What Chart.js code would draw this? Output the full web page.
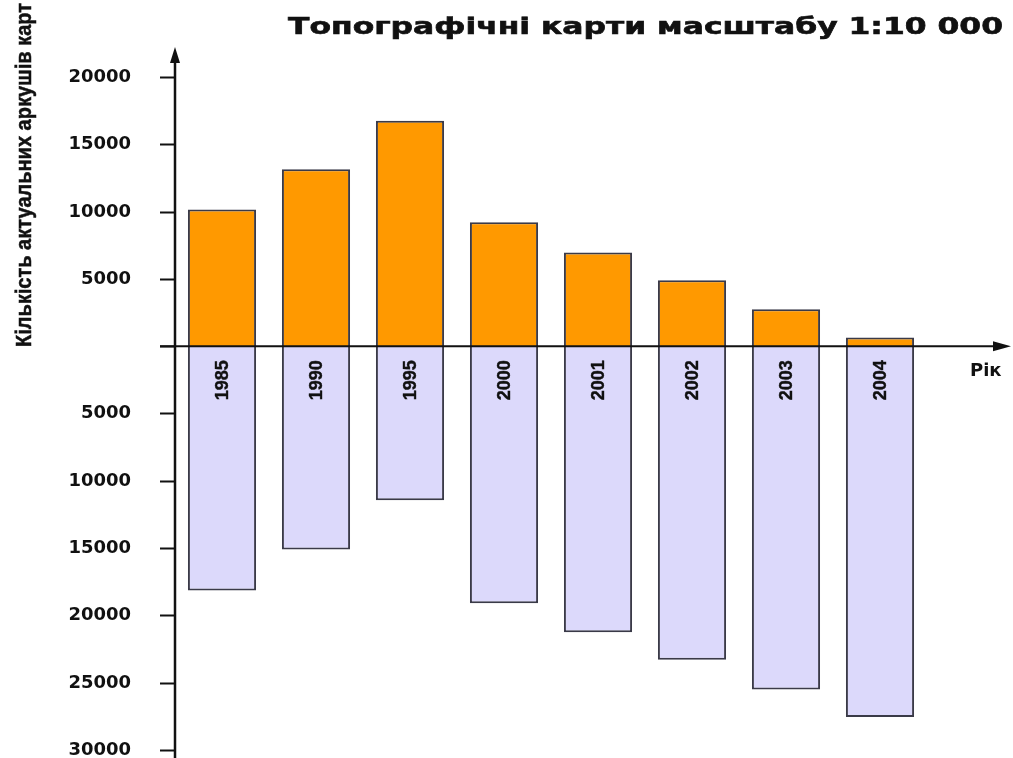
<!DOCTYPE html>
<html lang="uk">
<head>
<meta charset="utf-8">
<title>Топографічні карти масштабу 1:10 000</title>
<script src="https://cdn.jsdelivr.net/npm/chart.js@4.4.1/dist/chart.umd.min.js"></script>
<style>
  html, body { margin: 0; padding: 0; background: #ffffff; }
  #wrap { width: 1013px; height: 758px; position: relative; }
</style>
</head>
<body>
<div id="wrap"><canvas id="chart" width="1013" height="758"></canvas></div>
<script>
// Years along the horizontal axis
const years = ['1985', '1990', '1995', '2000', '2001', '2002', '2003', '2004'];
// Sheets that are up to date (drawn above the axis)
const currentSheets = [10150, 13150, 16750, 9200, 6950, 4900, 2750, 650];
// Sheets that are out of date (drawn below the axis)
const outdatedSheets = [18150, 15100, 11450, 19100, 21250, 23300, 25500, 27550];
// Labelled values on the vertical axis (0 is left unlabelled)
const yTickValues = [20000, 15000, 10000, 5000, 0, -5000, -10000, -15000, -20000, -25000, -30000];
// Vertical scale limits
const yMin = -30000;
const yMax = 22000;

const titleText = 'Топографічні карти масштабу 1:10 000';
const yTitleText = 'Кількість актуальних аркушів карт';
const xTitleText = 'Рік';

const INK = '#111111';
const BAR_EDGE = '#3a3a48';

// Axes with arrowheads, tick marks and labels, year labels and titles
const decorations = {
  id: 'decorations',
  afterDatasetsDraw(chart) {
    const ctx = chart.ctx;
    const y = chart.scales.y;
    const x = chart.scales.x;
    const area = chart.chartArea;
    const axisX = area.left;
    const zeroY = y.getPixelForValue(0);

    ctx.save();
    ctx.strokeStyle = INK;
    ctx.fillStyle = INK;

    // tick marks and labels on the vertical axis
    ctx.lineWidth = 2;
    ctx.font = 'bold 18px "DejaVu Sans", sans-serif';
    ctx.textAlign = 'right';
    ctx.textBaseline = 'middle';
    yTickValues.forEach(v => {
      const py = Math.round(y.getPixelForValue(v)) + 0.5;
      ctx.beginPath();
      ctx.moveTo(axisX - 15, py);
      ctx.lineTo(axisX, py);
      ctx.stroke();
      if (v !== 0) {
        ctx.fillText(String(Math.abs(v)), 131, py);
      }
    });

    // horizontal axis through zero
    ctx.lineWidth = 2;
    ctx.beginPath();
    ctx.moveTo(axisX - 15, zeroY);
    ctx.lineTo(996, zeroY);
    ctx.stroke();
    ctx.beginPath();
    ctx.moveTo(1011, zeroY);
    ctx.lineTo(993, zeroY - 5);
    ctx.lineTo(993, zeroY + 5);
    ctx.closePath();
    ctx.fill();

    // vertical axis
    ctx.lineWidth = 2.5;
    ctx.beginPath();
    ctx.moveTo(axisX, chart.height);
    ctx.lineTo(axisX, 60);
    ctx.stroke();
    ctx.beginPath();
    ctx.moveTo(axisX, 47);
    ctx.lineTo(axisX - 5, 63);
    ctx.lineTo(axisX + 5, 63);
    ctx.closePath();
    ctx.fill();

    // year labels inside the lower bars
    ctx.font = 'bold 18px "Liberation Sans", Arial, sans-serif';
    ctx.textAlign = 'center';
    ctx.textBaseline = 'middle';
    ctx.lineWidth = 0.4;
    years.forEach((yr, i) => {
      const cx = x.getPixelForValue(i);
      ctx.save();
      ctx.translate(cx + 1, zeroY + 34);
      ctx.rotate(-Math.PI / 2);
      ctx.fillText(yr, 0, 0);
      ctx.strokeText(yr, 0, 0);
      ctx.restore();
    });

    // horizontal axis title
    ctx.font = 'bold 18px "DejaVu Sans", sans-serif';
    ctx.textAlign = 'left';
    ctx.textBaseline = 'alphabetic';
    ctx.fillText(xTitleText, 970, 376);

    // vertical axis title
    ctx.font = 'bold 22px "Liberation Sans Narrow", "Liberation Sans", Arial, sans-serif';
    const yTitleW = ctx.measureText(yTitleText).width;
    ctx.save();
    ctx.translate(31, 347);
    ctx.rotate(-Math.PI / 2);
    ctx.scale(344 / yTitleW, 1);
    ctx.lineWidth = 0.5;
    ctx.textAlign = 'left';
    ctx.textBaseline = 'alphabetic';
    ctx.fillText(yTitleText, 0, 0);
    ctx.strokeText(yTitleText, 0, 0);
    ctx.restore();

    // chart title
    ctx.font = 'bold 23px "DejaVu Sans", sans-serif';
    const titleW = ctx.measureText(titleText).width;
    ctx.save();
    ctx.translate(288, 34);
    ctx.scale(715 / titleW, 1);
    ctx.lineWidth = 0.6;
    ctx.textAlign = 'left';
    ctx.textBaseline = 'alphabetic';
    ctx.fillText(titleText, 0, 0);
    ctx.strokeText(titleText, 0, 0);
    ctx.restore();

    ctx.restore();
  }
};

new Chart(document.getElementById('chart'), {
  type: 'bar',
  data: {
    labels: years,
    datasets: [
      {
        label: 'актуальні',
        data: currentSheets,
        backgroundColor: '#ff9900',
        borderColor: BAR_EDGE,
        borderWidth: 2,
        categoryPercentage: 1,
        barPercentage: 0.725
      },
      {
        label: 'застарілі',
        data: outdatedSheets.map(v => -v),
        backgroundColor: '#dcd9fb',
        borderColor: BAR_EDGE,
        borderWidth: 2,
        categoryPercentage: 1,
        barPercentage: 0.725
      }
    ]
  },
  options: {
    responsive: false,
    animation: false,
    layout: { padding: { top: 50, bottom: 8, left: 0, right: 86 } },
    plugins: {
      legend: { display: false },
      title: { display: false },
      tooltip: { enabled: false }
    },
    scales: {
      x: {
        stacked: true,
        display: false
      },
      y: {
        stacked: true,
        min: yMin,
        max: yMax,
        grid: { display: false, drawTicks: false },
        border: { display: false },
        afterFit(scale) { scale.width = 175; },
        ticks: { display: false, padding: 0 }
      }
    }
  },
  plugins: [decorations]
});
</script>
</body>
</html>
